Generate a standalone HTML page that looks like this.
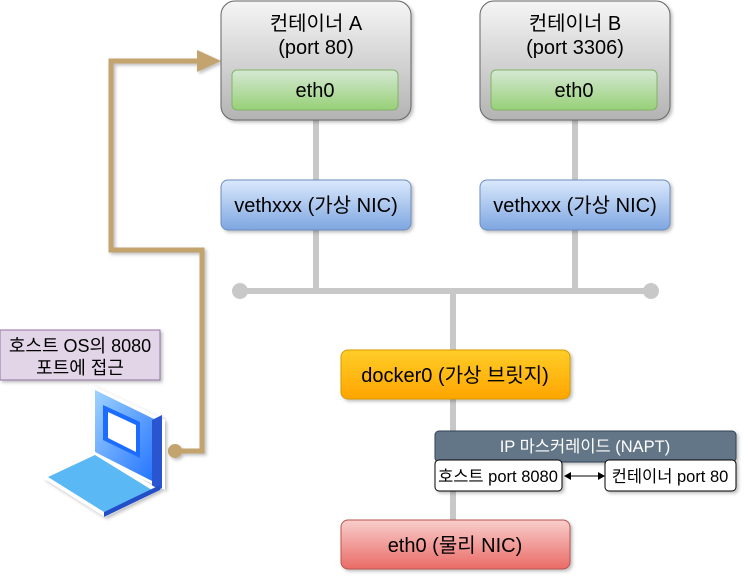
<!DOCTYPE html>
<html><head><meta charset="utf-8"><style>
html,body{margin:0;padding:0;background:#fff;}
svg text{font-family:"Liberation Sans","Noto Sans CJK KR",sans-serif;}
</style></head><body>
<svg width="747" height="582" viewBox="0 0 747 582" xmlns="http://www.w3.org/2000/svg">
<defs>
<linearGradient id="gray" x1="0" y1="0" x2="0" y2="1"><stop offset="0" stop-color="#f5f5f5"/><stop offset="1" stop-color="#b3b3b3"/></linearGradient>
<linearGradient id="green" x1="0" y1="0" x2="0" y2="1"><stop offset="0" stop-color="#d5e8d4"/><stop offset="1" stop-color="#97d077"/></linearGradient>
<linearGradient id="blue" x1="0" y1="0" x2="0" y2="1"><stop offset="0" stop-color="#dae8fc"/><stop offset="1" stop-color="#7ea6e0"/></linearGradient>
<linearGradient id="orange" x1="0" y1="0" x2="0" y2="1"><stop offset="0" stop-color="#ffcd28"/><stop offset="1" stop-color="#ffa500"/></linearGradient>
<linearGradient id="red" x1="0" y1="0" x2="0" y2="1"><stop offset="0" stop-color="#f8cecc"/><stop offset="1" stop-color="#ea6b66"/></linearGradient>
<linearGradient id="lap" x1="0" y1="0" x2="1" y2="1"><stop offset="0" stop-color="#9fd3ff"/><stop offset="1" stop-color="#1a6cff"/></linearGradient>
<filter id="sh" x="-10%" y="-10%" width="130%" height="130%"><feDropShadow dx="2" dy="2" stdDeviation="1.5" flood-color="#000" flood-opacity="0.25"/></filter>
</defs>
<g stroke="#c8c8c8" stroke-width="6" fill="none">
<line x1="316" y1="120" x2="316" y2="180"/>
<line x1="316" y1="230" x2="316" y2="291"/>
<line x1="575" y1="120" x2="575" y2="180"/>
<line x1="575" y1="230" x2="575" y2="291"/>
<line x1="240" y1="291" x2="651" y2="291"/>
<line x1="453" y1="291" x2="453" y2="520"/>
</g>
<circle cx="240" cy="291" r="8" fill="#c8c8c8"/>
<circle cx="651" cy="291" r="8" fill="#c8c8c8"/>
<g filter="url(#sh)">
<polyline points="175,451 202,451 202,250 111,250 111,61 200,61" fill="none" stroke="#c3a46e" stroke-width="5"/>
<polygon points="197,50 221,61 197,72" fill="#c3a46e"/>
<circle cx="175" cy="451" r="7" fill="#c3a46e"/>
</g>
<g filter="url(#sh)">
<rect x="221" y="1" width="190" height="119" rx="14" fill="url(#gray)" stroke="#666" stroke-width="1"/>
<rect x="232" y="70" width="166" height="40" rx="5" fill="url(#green)" stroke="#82b366"/>
<rect x="480" y="1" width="190" height="119" rx="14" fill="url(#gray)" stroke="#666" stroke-width="1"/>
<rect x="491" y="70" width="166" height="40" rx="5" fill="url(#green)" stroke="#82b366"/>
<rect x="221" y="180" width="190" height="50" rx="7" fill="url(#blue)" stroke="#6c8ebf"/>
<rect x="480" y="180" width="190" height="50" rx="7" fill="url(#blue)" stroke="#6c8ebf"/>
<rect x="341" y="350" width="229" height="49" rx="7" fill="url(#orange)" stroke="#d79b00"/>
<rect x="341" y="520" width="229" height="49" rx="7" fill="url(#red)" stroke="#b85450"/>
<rect x="435" y="431" width="301" height="31" rx="4" fill="#647687" stroke="#314354"/>
<rect x="435" y="460" width="127" height="31" rx="4" fill="#fff" stroke="#000"/>
<rect x="605" y="460" width="131" height="31" rx="4" fill="#fff" stroke="#000"/>
<rect x="0" y="330" width="160" height="50" fill="#e1d5e7" stroke="#9673a6"/>
</g>
<g font-size="20" fill="#000" text-anchor="middle">
<text x="316" y="30">컨테이너 A</text>
<text x="316" y="54">(port 80)</text>
<text x="315" y="97">eth0</text>
<text x="575" y="30">컨테이너 B</text>
<text x="575" y="54">(port 3306)</text>
<text x="574" y="97">eth0</text>
<text x="316" y="212">vethxxx (가상 NIC)</text>
<text x="575" y="212">vethxxx (가상 NIC)</text>
<text x="455" y="382">docker0 (가상 브릿지)</text>
<text x="455" y="552">eth0 (물리 NIC)</text>
</g>
<g font-size="16.5" text-anchor="middle">
<text x="585" y="452" fill="#fff">IP 마스커레이드 (NAPT)</text>
<text x="498" y="482" fill="#000">호스트 port 8080</text>
<text x="670" y="482" fill="#000">컨테이너 port 80</text>
<text x="80" y="352" fill="#000" font-size="18">호스트 OS의 8080</text>
<text x="80" y="374" fill="#000" font-size="18">포트에 접근</text>
</g>
<line x1="570" y1="476" x2="598" y2="476" stroke="#000" stroke-width="1"/>
<polygon points="564,476 571,472 571,480" fill="#000"/>
<polygon points="605,476 598,472 598,480" fill="#000"/>
<g filter="url(#sh)">
<polygon points="92,385 165,420 165,490 92,455" fill="#fff"/>
<polygon points="95,390 160,422 160,485 95,452" fill="url(#lap)"/>
<polygon points="152,420 162,415 162,488 152,493" fill="#2a55d0"/>
<polygon points="103,405 140,422 140,458 103,440" fill="#1a6cff"/>
<polygon points="108,412 136,425 136,452 108,438" fill="#fff"/>
<polygon points="43,478 95,452 160,490 105,517" fill="#fff"/>
<polygon points="48,477 95,455 152,490 104,512" fill="#5ab8f5"/>
<polygon points="104,512 104,517 160,490 160,485" fill="#2450c8"/>
</g>
</svg>
</body></html>
